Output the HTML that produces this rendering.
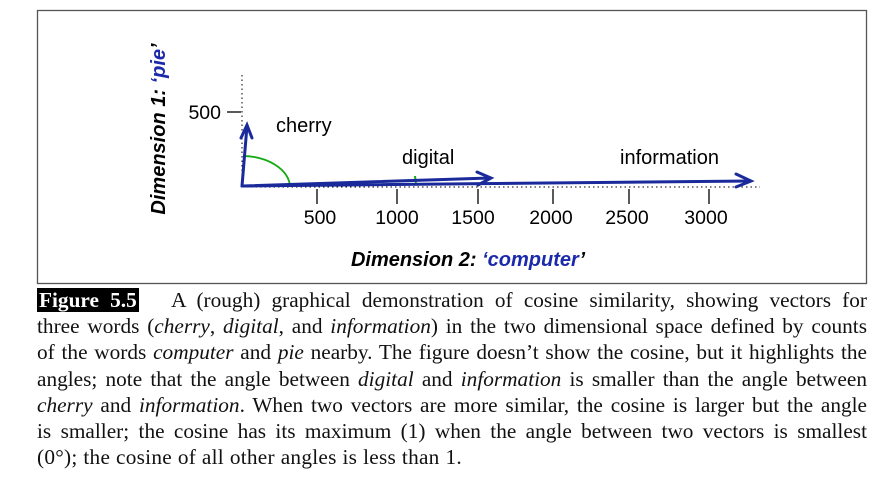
<!DOCTYPE html>
<html><head><style>
body{margin:0;background:#fff;width:888px;height:485px;overflow:hidden;position:relative}
.cap{position:absolute;left:37px;top:287px;width:830px;font-family:"Liberation Serif",serif;font-size:21.3px;line-height:26.2px;color:#111}
.cap div{text-align:justify;text-align-last:justify;white-space:nowrap}
.cap div.l{text-align-last:left;letter-spacing:0.25px;word-spacing:0.3px}
.fig{background:#000;color:#fff;font-weight:bold;padding:0 2px 0 2px}
</style></head><body>
<svg width="888" height="485" style="position:absolute;left:0;top:0" font-family="Liberation Sans, sans-serif">
<rect x="37.5" y="10.5" width="829" height="273" fill="none" stroke="#555" stroke-width="1.3"/>
<line x1="242" y1="75" x2="242" y2="186" stroke="#000" stroke-dasharray="1.5,3"/>
<line x1="242" y1="187" x2="760" y2="187" stroke="#000" stroke-dasharray="1.5,3"/>
<line x1="227" y1="112" x2="241" y2="112" stroke="#000" stroke-width="1.3"/>
<text x="221" y="119" font-size="19.5" text-anchor="end">500</text>
<g stroke="#000" stroke-width="1.3">
<line x1="317" y1="189" x2="317" y2="204"/><line x1="397" y1="189" x2="397" y2="204"/><line x1="478" y1="189" x2="478" y2="204"/><line x1="553" y1="189" x2="553" y2="204"/><line x1="629" y1="189" x2="629" y2="204"/><line x1="709" y1="189" x2="709" y2="204"/></g>
<g font-size="19.5" text-anchor="middle"><text x="320" y="224">500</text><text x="397" y="224">1000</text><text x="473" y="224">1500</text><text x="551" y="224">2000</text><text x="627" y="224">2500</text><text x="706" y="224">3000</text></g>
<path d="M243 156 A48 32 0 0 1 290 186" fill="none" stroke="#1a1" stroke-width="1.8"/>
<line x1="415" y1="176" x2="416" y2="184" stroke="#1a1" stroke-width="2"/>
<g stroke="#1a2a9a" stroke-width="3" fill="none" stroke-linecap="round">
<line x1="242" y1="186" x2="247" y2="126"/><polyline points="241,138 247,125 252,138"/>
<line x1="242" y1="186" x2="490" y2="178"/><polyline points="477,172 491,178 478,185"/>
<line x1="242" y1="186" x2="750" y2="181"/><polyline points="736,174 751,181 736,187"/>
</g>
<text x="276" y="132" font-size="20">cherry</text>
<text x="402" y="164" font-size="20">digital</text>
<text x="620" y="164" font-size="20">information</text>
<text x="468" y="266" font-size="20" font-weight="bold" font-style="italic" text-anchor="middle">Dimension 2: <tspan fill="#1a2aaa">‘computer</tspan>’</text>
<text transform="translate(165,129) rotate(-90)" font-size="20" font-weight="bold" font-style="italic" text-anchor="middle">Dimension 1: <tspan fill="#1a2aaa">‘pie</tspan>’</text>
</svg>
<div class="cap">
<div><span class="fig">Figure 5.5</span>&nbsp;&nbsp; A (rough) graphical demonstration of cosine similarity, showing vectors for</div>
<div>three words (<i>cherry</i>, <i>digital</i>, and <i>information</i>) in the two dimensional space defined by counts</div>
<div>of the words <i>computer</i> and <i>pie</i> nearby. The figure doesn’t show the cosine, but it highlights the</div>
<div>angles; note that the angle between <i>digital</i> and <i>information</i> is smaller than the angle between</div>
<div><i>cherry</i> and <i>information</i>. When two vectors are more similar, the cosine is larger but the angle</div>
<div>is smaller; the cosine has its maximum (1) when the angle between two vectors is smallest</div>
<div class="l">(0°); the cosine of all other angles is less than 1.</div>
</div>
</body></html>
